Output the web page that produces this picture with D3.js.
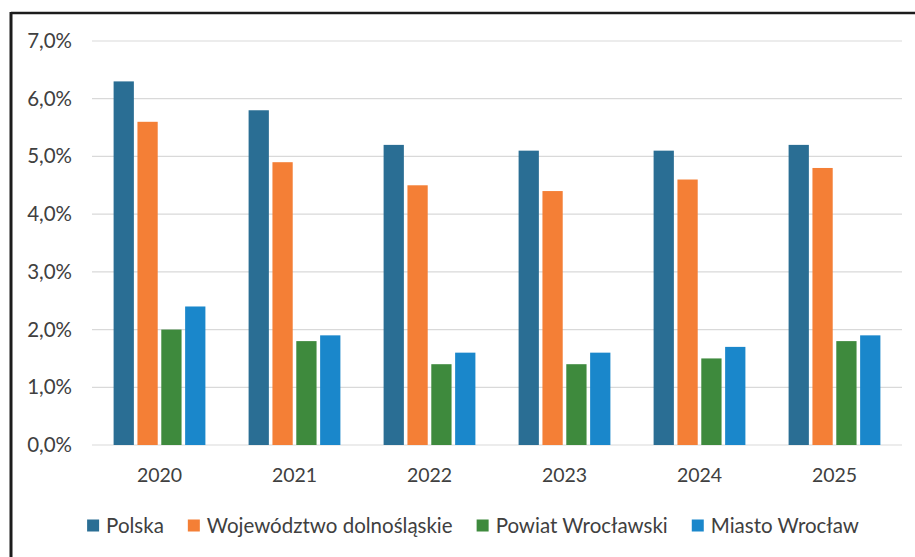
<!DOCTYPE html>
<html><head><meta charset="utf-8">
<script src="https://cdn.jsdelivr.net/npm/d3@7"></script>
<style>
html,body{margin:0;padding:0;background:#fff;}
svg{display:block;}
text{font-family:Lato,"Open Sans",sans-serif;fill:#404040;}
</style></head>
<body>
<svg id="chart" width="915" height="557"></svg>
<script>
const years = ["2020","2021","2022","2023","2024","2025"];
const seriesNames = ["Polska","Województwo dolnośląskie","Powiat Wrocławski","Miasto Wrocław"];
const polska = [6.3, 5.8, 5.2, 5.1, 5.1, 5.2];
const wojewodztwo = [5.6, 4.9, 4.5, 4.4, 4.6, 4.8];
const powiat = [2.0, 1.8, 1.4, 1.4, 1.5, 1.8];
const miasto = [2.4, 1.9, 1.6, 1.6, 1.7, 1.9];
const yTicks = [0,1,2,3,4,5,6,7];
const colors = ["#2A6E94","#F47F36","#3E8A3D","#1A87CB"];

const seriesValues = [polska, wojewodztwo, powiat, miasto];
const svg = d3.select("#chart");

// frame (top & left visible)
svg.append("line").attr("x1",11).attr("x2",915).attr("y1",13).attr("y2",13)
  .attr("stroke","#1c1c1c").attr("stroke-width",2.5);
svg.append("line").attr("x1",11).attr("x2",11).attr("y1",12).attr("y2",557)
  .attr("stroke","#1c1c1c").attr("stroke-width",3);

const x0 = d3.scaleBand().domain(years).range([92,902]).paddingInner(0.32).paddingOuter(0.16);
const x1 = d3.scaleBand().domain(seriesNames).range([0,x0.bandwidth()]).paddingInner(0.15);
const y = d3.scaleLinear().domain([0,7]).range([445,41]);

// gridlines
svg.append("g").selectAll("line").data(yTicks).join("line")
  .attr("x1",92).attr("x2",902)
  .attr("y1",d=>y(d)).attr("y2",d=>y(d))
  .attr("stroke","#D9D9D9").attr("stroke-width",1.2);

// y axis labels
const yAxis = d3.axisLeft(y).tickValues(yTicks).tickSize(0).tickPadding(0)
  .tickFormat(d=>d3.format(".1f")(d).replace(".",",")+"%");
const gy = svg.append("g").attr("transform","translate(72,0)").call(yAxis);
gy.select(".domain").remove();
gy.selectAll("text").attr("font-size",20.5).attr("font-family","Lato,'Open Sans',sans-serif").attr("fill","#404040");

// bars
const groups = svg.append("g").selectAll("g").data(years).join("g")
  .attr("transform",d=>`translate(${x0(d)},0)`);
groups.selectAll("rect").data((d,i)=>seriesNames.map((s,k)=>({s,k,v:seriesValues[k][i]}))).join("rect")
  .attr("x",d=>x1(d.s)).attr("width",x1.bandwidth())
  .attr("y",d=>y(d.v)).attr("height",d=>y(0)-y(d.v))
  .attr("fill",d=>colors[d.k]);

// x axis labels
const xAxis = d3.axisBottom(x0).tickSize(0).tickPadding(0);
const gx = svg.append("g").attr("transform","translate(0,468)").call(xAxis);
gx.select(".domain").remove();
gx.selectAll("text").attr("font-size",19.5).attr("font-family","Lato,'Open Sans',sans-serif").attr("fill","#404040").attr("dy","0.71em");

// legend
const leg = svg.append("g");
let cx = 0;
seriesNames.forEach((s,k)=>{
  const g = leg.append("g");
  g.append("rect").attr("x",cx).attr("y",-13.5).attr("width",12).attr("height",12).attr("fill",colors[k]);
  const t = g.append("text").attr("x",cx+19).attr("y",0).attr("font-size",20.5).text(s);
  cx += 19 + t.node().getComputedTextLength() + 24;
});
const totalW = cx - 24;
leg.attr("transform",`translate(${473 - totalW/2},533)`);
</script>
</body></html>
